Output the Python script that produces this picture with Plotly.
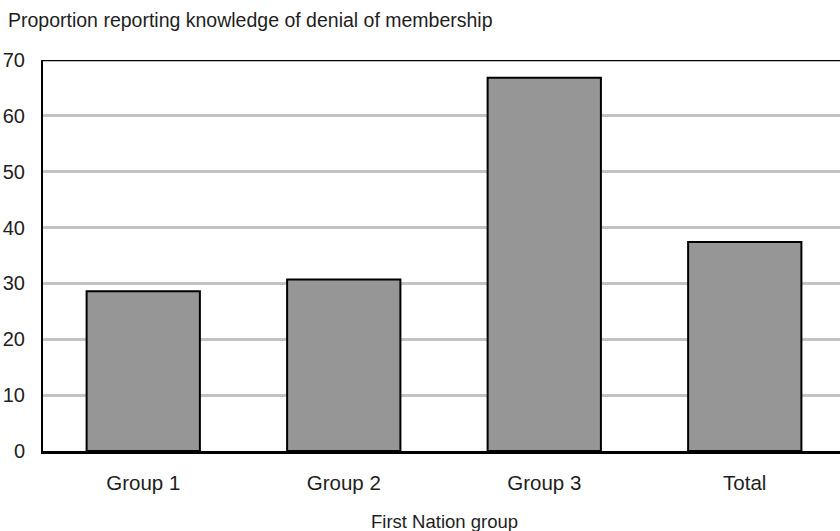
import plotly.graph_objects as go

categories = ["Group 1", "Group 2", "Group 3", "Total"]
values = [28.6, 30.7, 66.8, 37.4]
y_ticks = [0, 10, 20, 30, 40, 50, 60, 70]

FONT = "Liberation Sans, Arial, sans-serif"
TXT = "#1e1e1e"

W, H = 840, 531
L, T, B = 43, 60, 80
PH = H - T - B

fig = go.Figure()
fig.add_trace(go.Bar(
    x=categories, y=values, width=0.565,
    marker=dict(color="#969696", line=dict(color="#000000", width=2)),
))

fig.update_layout(
    width=W, height=H,
    margin=dict(l=L, r=0, t=T, b=B),
    plot_bgcolor="white", paper_bgcolor="white",
    showlegend=False,
    font=dict(family=FONT, color=TXT),
    title=dict(text="Proportion reporting knowledge of denial of membership",
               x=8 / W, xref="container", xanchor="left", y=1 - 20 / H, yanchor="middle",
               font=dict(size=19.5, family=FONT, color=TXT)),
)
fig.update_xaxes(
    type="category", range=[-0.5, 3.475], automargin=False,
    showline=True, linecolor="#000000", linewidth=3,
    showgrid=False, ticks="", ticklabelstandoff=11,
    tickfont=dict(size=20.5, family=FONT, color=TXT),
)
fig.update_yaxes(
    range=[0, 70], tickvals=y_ticks, automargin=False,
    showline=True, linecolor="#000000", linewidth=2,
    showgrid=True, gridcolor="#c3c3c3", gridwidth=3,
    zeroline=False, ticks="", ticklabelstandoff=12,
    tickfont=dict(size=20, family=FONT, color=TXT),
)
fig.add_shape(type="line", xref="paper", yref="y", x0=0, x1=1, y0=70, y1=70,
              line=dict(color="#000000", width=2.5))
fig.add_annotation(text="First Nation group", xref="x", yref="paper",
                   x=1.5, y=-70 / PH, yanchor="middle", showarrow=False,
                   font=dict(size=18.5, family=FONT, color=TXT))

fig.write_html(
    "out.html",
    config={"displayModeBar": False},
    post_script="document.body.style.margin='0';document.body.style.overflow='hidden';",
)
